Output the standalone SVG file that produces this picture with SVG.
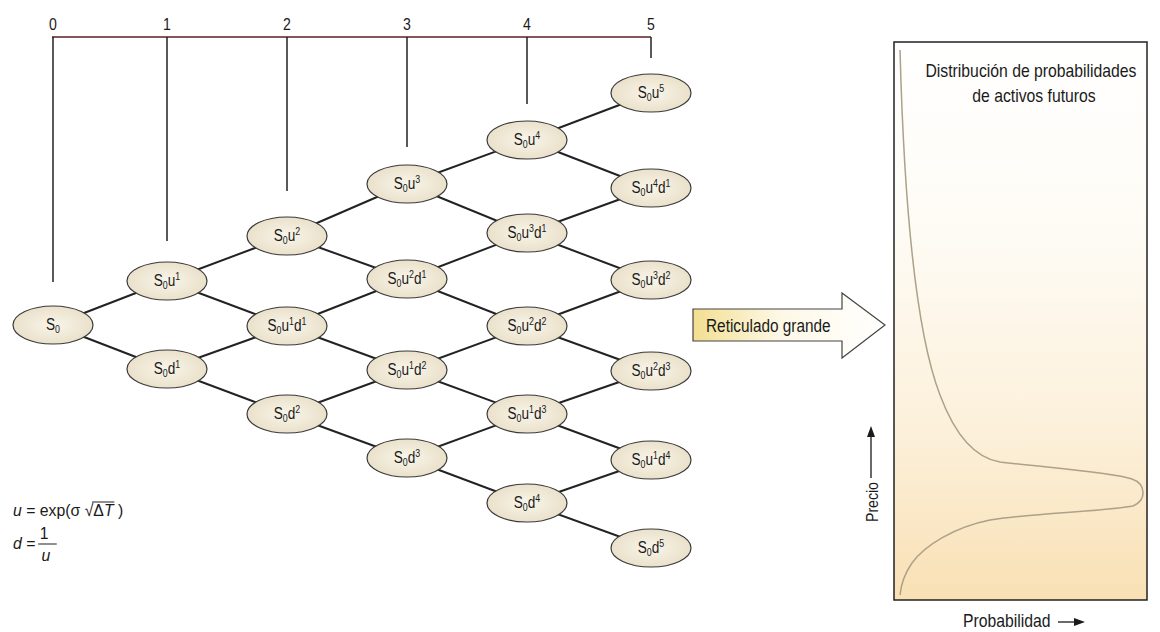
<svg xmlns="http://www.w3.org/2000/svg" width="1160" height="632" viewBox="0 0 1160 632">
<defs>
<style>
.t{font-family:"Liberation Sans",Arial,sans-serif;fill:#1a1a1a}
.nt{font-size:17px;text-anchor:middle}
.sb{font-size:11px}
.ax{font-size:17px;text-anchor:middle}
.node ellipse{fill:url(#ng);stroke:#3a3a3a;stroke-width:1.2}
.cn line{stroke:#222;stroke-width:2}
.tick{stroke:#222;stroke-width:1.5}
.f{font-family:"Liberation Sans",Arial,sans-serif;font-size:17px;fill:#1a1a1a}
</style>
<radialGradient id="ng" cx="0.5" cy="0.5" r="0.6">
<stop offset="0" stop-color="#f9f5ea"/>
<stop offset="1" stop-color="#e7ddc4"/>
</radialGradient>
<linearGradient id="ag" x1="0" y1="0" x2="1" y2="0">
<stop offset="0" stop-color="#f3df90"/>
<stop offset="0.45" stop-color="#fdf8e6"/>
<stop offset="1" stop-color="#ffffff"/>
</linearGradient>
<linearGradient id="pg" x1="0" y1="0" x2="0" y2="1">
<stop offset="0" stop-color="#ffffff"/>
<stop offset="0.35" stop-color="#fefbf4"/>
<stop offset="0.7" stop-color="#fcf0da"/>
<stop offset="1" stop-color="#f9e0b4"/>
</linearGradient>
</defs>
<rect width="1160" height="632" fill="#ffffff"/>

<g id="axis">
<line x1="52" y1="37" x2="651" y2="37" stroke="#5c1f24" stroke-width="1.5"/>
<line class="tick" x1="53" y1="37" x2="53" y2="282"/>
<line class="tick" x1="167" y1="37" x2="167" y2="241"/>
<line class="tick" x1="287" y1="37" x2="287" y2="191"/>
<line class="tick" x1="407" y1="37" x2="407" y2="147"/>
<line class="tick" x1="527" y1="37" x2="527" y2="104"/>
<line class="tick" x1="651" y1="37" x2="651" y2="58"/>
<text class="t ax" transform="translate(53,30) scale(.83,1)">0</text>
<text class="t ax" transform="translate(167,30) scale(.83,1)">1</text>
<text class="t ax" transform="translate(287,30) scale(.83,1)">2</text>
<text class="t ax" transform="translate(407,30) scale(.83,1)">3</text>
<text class="t ax" transform="translate(527,30) scale(.83,1)">4</text>
<text class="t ax" transform="translate(651,30) scale(.83,1)">5</text>
</g>

<g id="connectors" class="cn">
<line x1="53" y1="325" x2="167" y2="281"/><line x1="53" y1="325" x2="167" y2="369"/>
<line x1="167" y1="281" x2="287" y2="236"/><line x1="167" y1="281" x2="287" y2="326"/>
<line x1="167" y1="369" x2="287" y2="326"/><line x1="167" y1="369" x2="287" y2="414"/>
<line x1="287" y1="236" x2="407" y2="184"/><line x1="287" y1="236" x2="407" y2="279"/>
<line x1="287" y1="326" x2="407" y2="279"/><line x1="287" y1="326" x2="407" y2="370"/>
<line x1="287" y1="414" x2="407" y2="370"/><line x1="287" y1="414" x2="407" y2="458"/>
<line x1="407" y1="184" x2="527" y2="140"/><line x1="407" y1="184" x2="527" y2="233"/>
<line x1="407" y1="279" x2="527" y2="233"/><line x1="407" y1="279" x2="527" y2="326"/>
<line x1="407" y1="370" x2="527" y2="326"/><line x1="407" y1="370" x2="527" y2="414"/>
<line x1="407" y1="458" x2="527" y2="414"/><line x1="407" y1="458" x2="527" y2="503"/>
<line x1="527" y1="140" x2="651" y2="93"/><line x1="527" y1="140" x2="651" y2="188"/>
<line x1="527" y1="233" x2="651" y2="188"/><line x1="527" y1="233" x2="651" y2="280"/>
<line x1="527" y1="326" x2="651" y2="280"/><line x1="527" y1="326" x2="651" y2="371"/>
<line x1="527" y1="414" x2="651" y2="371"/><line x1="527" y1="414" x2="651" y2="460"/>
<line x1="527" y1="503" x2="651" y2="460"/><line x1="527" y1="503" x2="651" y2="548"/>
</g>

<g id="n00" class="node"><ellipse cx="53" cy="325" rx="40" ry="19"/><text class="t nt" transform="translate(53,330) scale(.8,1)">S<tspan class="sb" dy="3">0</tspan></text></g>

<g id="n10" class="node"><ellipse cx="167" cy="281" rx="40" ry="19"/><text class="t nt" transform="translate(167,286) scale(.8,1)">S<tspan class="sb" dy="3">0</tspan><tspan dy="-3">u</tspan><tspan class="sb" dy="-6">1</tspan></text></g>
<g id="n11" class="node"><ellipse cx="167" cy="369" rx="40" ry="19"/><text class="t nt" transform="translate(167,374) scale(.8,1)">S<tspan class="sb" dy="3">0</tspan><tspan dy="-3">d</tspan><tspan class="sb" dy="-6">1</tspan></text></g>

<g id="n20" class="node"><ellipse cx="287" cy="236" rx="40" ry="19"/><text class="t nt" transform="translate(287,241) scale(.8,1)">S<tspan class="sb" dy="3">0</tspan><tspan dy="-3">u</tspan><tspan class="sb" dy="-6">2</tspan></text></g>
<g id="n21" class="node"><ellipse cx="287" cy="326" rx="40" ry="19"/><text class="t nt" transform="translate(287,331) scale(.8,1)">S<tspan class="sb" dy="3">0</tspan><tspan dy="-3">u</tspan><tspan class="sb" dy="-6">1</tspan><tspan dy="6">d</tspan><tspan class="sb" dy="-6">1</tspan></text></g>
<g id="n22" class="node"><ellipse cx="287" cy="414" rx="40" ry="19"/><text class="t nt" transform="translate(287,419) scale(.8,1)">S<tspan class="sb" dy="3">0</tspan><tspan dy="-3">d</tspan><tspan class="sb" dy="-6">2</tspan></text></g>

<g id="n30" class="node"><ellipse cx="407" cy="184" rx="40" ry="19"/><text class="t nt" transform="translate(407,189) scale(.8,1)">S<tspan class="sb" dy="3">0</tspan><tspan dy="-3">u</tspan><tspan class="sb" dy="-6">3</tspan></text></g>
<g id="n31" class="node"><ellipse cx="407" cy="279" rx="40" ry="19"/><text class="t nt" transform="translate(407,284) scale(.8,1)">S<tspan class="sb" dy="3">0</tspan><tspan dy="-3">u</tspan><tspan class="sb" dy="-6">2</tspan><tspan dy="6">d</tspan><tspan class="sb" dy="-6">1</tspan></text></g>
<g id="n32" class="node"><ellipse cx="407" cy="370" rx="40" ry="19"/><text class="t nt" transform="translate(407,375) scale(.8,1)">S<tspan class="sb" dy="3">0</tspan><tspan dy="-3">u</tspan><tspan class="sb" dy="-6">1</tspan><tspan dy="6">d</tspan><tspan class="sb" dy="-6">2</tspan></text></g>
<g id="n33" class="node"><ellipse cx="407" cy="458" rx="40" ry="19"/><text class="t nt" transform="translate(407,463) scale(.8,1)">S<tspan class="sb" dy="3">0</tspan><tspan dy="-3">d</tspan><tspan class="sb" dy="-6">3</tspan></text></g>

<g id="n40" class="node"><ellipse cx="527" cy="140" rx="40" ry="19"/><text class="t nt" transform="translate(527,145) scale(.8,1)">S<tspan class="sb" dy="3">0</tspan><tspan dy="-3">u</tspan><tspan class="sb" dy="-6">4</tspan></text></g>
<g id="n41" class="node"><ellipse cx="527" cy="233" rx="40" ry="19"/><text class="t nt" transform="translate(527,238) scale(.8,1)">S<tspan class="sb" dy="3">0</tspan><tspan dy="-3">u</tspan><tspan class="sb" dy="-6">3</tspan><tspan dy="6">d</tspan><tspan class="sb" dy="-6">1</tspan></text></g>
<g id="n42" class="node"><ellipse cx="527" cy="326" rx="40" ry="19"/><text class="t nt" transform="translate(527,331) scale(.8,1)">S<tspan class="sb" dy="3">0</tspan><tspan dy="-3">u</tspan><tspan class="sb" dy="-6">2</tspan><tspan dy="6">d</tspan><tspan class="sb" dy="-6">2</tspan></text></g>
<g id="n43" class="node"><ellipse cx="527" cy="414" rx="40" ry="19"/><text class="t nt" transform="translate(527,419) scale(.8,1)">S<tspan class="sb" dy="3">0</tspan><tspan dy="-3">u</tspan><tspan class="sb" dy="-6">1</tspan><tspan dy="6">d</tspan><tspan class="sb" dy="-6">3</tspan></text></g>
<g id="n44" class="node"><ellipse cx="527" cy="503" rx="40" ry="19"/><text class="t nt" transform="translate(527,508) scale(.8,1)">S<tspan class="sb" dy="3">0</tspan><tspan dy="-3">d</tspan><tspan class="sb" dy="-6">4</tspan></text></g>

<g id="n50" class="node"><ellipse cx="651" cy="93" rx="40" ry="19"/><text class="t nt" transform="translate(651,98) scale(.8,1)">S<tspan class="sb" dy="3">0</tspan><tspan dy="-3">u</tspan><tspan class="sb" dy="-6">5</tspan></text></g>
<g id="n51" class="node"><ellipse cx="651" cy="188" rx="40" ry="19"/><text class="t nt" transform="translate(651,193) scale(.8,1)">S<tspan class="sb" dy="3">0</tspan><tspan dy="-3">u</tspan><tspan class="sb" dy="-6">4</tspan><tspan dy="6">d</tspan><tspan class="sb" dy="-6">1</tspan></text></g>
<g id="n52" class="node"><ellipse cx="651" cy="280" rx="40" ry="19"/><text class="t nt" transform="translate(651,285) scale(.8,1)">S<tspan class="sb" dy="3">0</tspan><tspan dy="-3">u</tspan><tspan class="sb" dy="-6">3</tspan><tspan dy="6">d</tspan><tspan class="sb" dy="-6">2</tspan></text></g>
<g id="n53" class="node"><ellipse cx="651" cy="371" rx="40" ry="19"/><text class="t nt" transform="translate(651,376) scale(.8,1)">S<tspan class="sb" dy="3">0</tspan><tspan dy="-3">u</tspan><tspan class="sb" dy="-6">2</tspan><tspan dy="6">d</tspan><tspan class="sb" dy="-6">3</tspan></text></g>
<g id="n54" class="node"><ellipse cx="651" cy="460" rx="40" ry="19"/><text class="t nt" transform="translate(651,465) scale(.8,1)">S<tspan class="sb" dy="3">0</tspan><tspan dy="-3">u</tspan><tspan class="sb" dy="-6">1</tspan><tspan dy="6">d</tspan><tspan class="sb" dy="-6">4</tspan></text></g>
<g id="n55" class="node"><ellipse cx="651" cy="548" rx="40" ry="19"/><text class="t nt" transform="translate(651,553) scale(.8,1)">S<tspan class="sb" dy="3">0</tspan><tspan dy="-3">d</tspan><tspan class="sb" dy="-6">5</tspan></text></g>

<g id="formula" transform="translate(13,0) scale(.93,1)">
<text class="f" x="0" y="516"><tspan font-style="italic">u</tspan> = exp(σ √<tspan>Δ</tspan><tspan font-style="italic">T</tspan> )</text>
<line x1="85" y1="502" x2="109" y2="502" stroke="#1a1a1a" stroke-width="1"/>
<text class="f" x="0" y="549"><tspan font-style="italic">d</tspan> =</text>
<text class="f" x="33.5" y="539" text-anchor="middle">1</text>
<line x1="27" y1="544" x2="47" y2="544" stroke="#1a1a1a" stroke-width="1"/>
<text class="f" x="35.5" y="561" text-anchor="middle" font-style="italic">u</text>
</g>

<g id="arrow">
<path d="M693,309 L842,309 L842,293 L885,325 L842,358 L842,341 L693,341 Z" fill="url(#ag)" stroke="#444" stroke-width="1.2" stroke-linejoin="miter"/>
<text class="t" font-size="18.5" transform="translate(706,332) scale(.83,1)">Reticulado grande</text>
</g>

<g id="panel">
<rect x="894" y="42" width="253" height="558" fill="url(#pg)" stroke="#222" stroke-width="1.5"/>
<path d="M900,50 C904,200 915,330 940,395 C955,435 975,458 1000,462 C1050,468 1110,472 1132,479 C1146,484 1147,500 1133,506 C1100,512 1030,513 990,520 C955,527 925,545 912,563 C905,573 901,585 900,595" fill="none" stroke="#aca189" stroke-width="1.5"/>
<text class="t" font-size="19" text-anchor="middle" transform="translate(1031,77) scale(.83,1)">Distribución de probabilidades</text>
<text class="t" font-size="19" text-anchor="middle" transform="translate(1034,102) scale(.83,1)">de activos futuros</text>
</g>

<g id="labels">
<text class="t" font-size="17" transform="translate(878,522) rotate(-90) scale(.83,1)">Precio</text>
<line x1="871" y1="478" x2="871" y2="435" stroke="#1a1a1a" stroke-width="1.3"/>
<polygon points="871,426 867,437 875,437" fill="#1a1a1a"/>
<text class="t" font-size="19" transform="translate(963,627) scale(.83,1)">Probabilidad</text>
<line x1="1058" y1="622" x2="1076" y2="622" stroke="#1a1a1a" stroke-width="1.3"/>
<polygon points="1085,622 1074,618 1074,626" fill="#1a1a1a"/>
</g>
</svg>
